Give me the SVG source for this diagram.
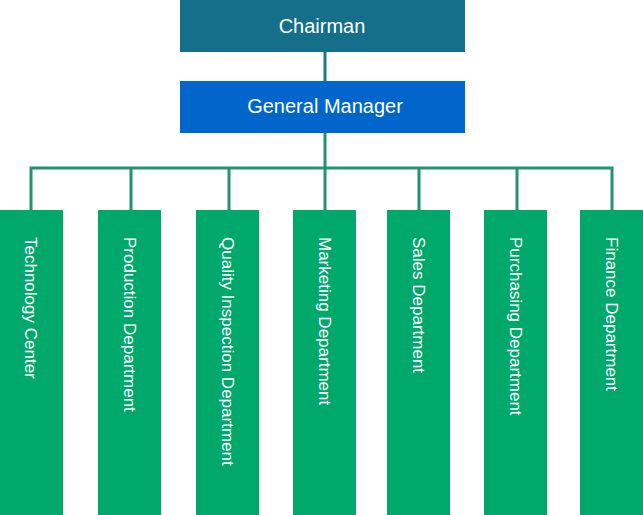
<svg xmlns="http://www.w3.org/2000/svg" width="643" height="515" viewBox="0 0 643 515">
<style>
.d{fill:#00a86b}
.t{fill:#fff;font-family:"Liberation Sans",Arial,sans-serif;font-size:17px}
.h{fill:#fff;font-family:"Liberation Sans",Arial,sans-serif;font-size:20px;text-anchor:middle}
.c{stroke:#229370;stroke-width:3;fill:none}
</style>
<g id="connectors">
<path class="c" style="stroke:#1d7a80" d="M325 52V81"/>
<path class="c" d="M325 133V210M31 210V168H612V210M131 168V210M229 168V210M419 168V210M517 168V210"/>
</g>
<g id="chairman"><rect x="180" y="0" width="285" height="52" fill="#156f8a"/><text class="h" x="322" y="33">Chairman</text></g>
<g id="gm"><rect x="180" y="81" width="285" height="52" fill="#0066cc"/><text class="h" x="325" y="113">General Manager</text></g>
<g id="n1"><rect class="d" x="0" y="210" width="63" height="305"/><text class="t" transform="translate(25,237) rotate(90)">Technology Center</text></g>
<g id="n2"><rect class="d" x="98" y="210" width="63" height="305"/><text class="t" transform="translate(124,237) rotate(90)">Production Department</text></g>
<g id="n3"><rect class="d" x="196" y="210" width="63" height="305"/><text class="t" transform="translate(222,237) rotate(90)">Quality Inspection Department</text></g>
<g id="n4"><rect class="d" x="293" y="210" width="63" height="305"/><text class="t" transform="translate(319,237) rotate(90)">Marketing Department</text></g>
<g id="n5"><rect class="d" x="387" y="210" width="63" height="305"/><text class="t" transform="translate(413,237) rotate(90)">Sales Department</text></g>
<g id="n6"><rect class="d" x="484" y="210" width="63" height="305"/><text class="t" transform="translate(510,237) rotate(90)">Purchasing Department</text></g>
<g id="n7"><rect class="d" x="580" y="210" width="63" height="305"/><text class="t" transform="translate(606,237) rotate(90)">Finance Department</text></g>
</svg>
